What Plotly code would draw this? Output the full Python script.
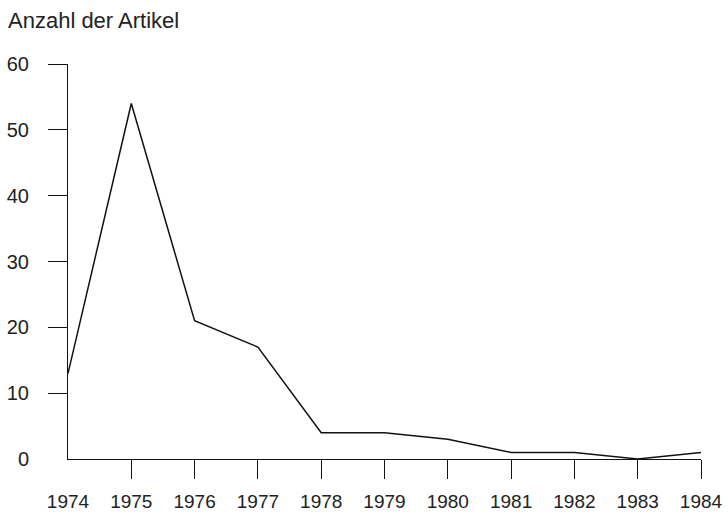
import plotly.graph_objects as go

years = [1974, 1975, 1976, 1977, 1978, 1979, 1980, 1981, 1982, 1983, 1984]
articles = [13, 54, 21, 17, 4, 4, 3, 1, 1, 0, 1]
y_ticks = [0, 10, 20, 30, 40, 50, 60]
title_text = "Anzahl der Artikel"

FAMILY = "Liberation Sans, Arial, Helvetica, sans-serif"
TXT = "#222222"
XTICKFONT = dict(family=FAMILY, size=19, color=TXT)
YTICKFONT = dict(family=FAMILY, size=20, color=TXT)
TITLEFONT = dict(family=FAMILY, size=22, color=TXT)
INK = "#111111"

fig = go.Figure()
fig.add_trace(go.Scatter(x=years, y=articles, mode="lines",
                         line=dict(color=INK, width=1.5), showlegend=False,
                         hoverinfo="x+y"))
# invisible copy so the label-only overlay axes are drawn
fig.add_trace(go.Scatter(x=years, y=articles, mode="lines", xaxis="x2", yaxis="y2",
                         line=dict(color="rgba(0,0,0,0)", width=0), showlegend=False,
                         hoverinfo="skip"))

fig.update_layout(
    width=728, height=515,
    margin=dict(l=68, r=27, t=64, b=56),
    paper_bgcolor="white", plot_bgcolor="white",
    font=YTICKFONT,
    title=dict(text=title_text, x=0.011, xanchor="left", xref="container",
               y=1 - 20 / 515, yanchor="middle", yref="container", font=TITLEFONT),
    xaxis=dict(range=[years[0], years[-1]], tickvals=years[1:], showticklabels=False,
               ticks="outside", ticklen=19, tickwidth=1.3, tickcolor=INK,
               showline=True, linecolor=INK, linewidth=1.3, automargin=False,
               showgrid=False, zeroline=False),
    xaxis2=dict(range=[years[0], years[-1]], overlaying="x", anchor="y", side="bottom",
                tickvals=years, ticktext=[str(v) for v in years],
                ticks="outside", ticklen=19, tickcolor="rgba(0,0,0,0)",
                ticklabelstandoff=6, tickfont=XTICKFONT, automargin=False,
                showline=False, showgrid=False, zeroline=False),
    yaxis=dict(range=[y_ticks[0], y_ticks[-1]], tickvals=y_ticks[1:], showticklabels=False,
               ticks="outside", ticklen=19, tickwidth=1.3, tickcolor=INK,
               showline=True, linecolor=INK, linewidth=1.3, automargin=False,
               showgrid=False, zeroline=False),
    yaxis2=dict(range=[y_ticks[0], y_ticks[-1]], overlaying="y", anchor="x", side="left",
                tickvals=y_ticks, ticktext=[str(v) for v in y_ticks],
                ticks="outside", ticklen=19, tickcolor="rgba(0,0,0,0)",
                ticklabelstandoff=15, tickfont=YTICKFONT, automargin=False,
                showline=False, showgrid=False, zeroline=False),
)

fig.write_html("out.html", config={"displayModeBar": False},
               post_script="document.body.style.margin='0';")
